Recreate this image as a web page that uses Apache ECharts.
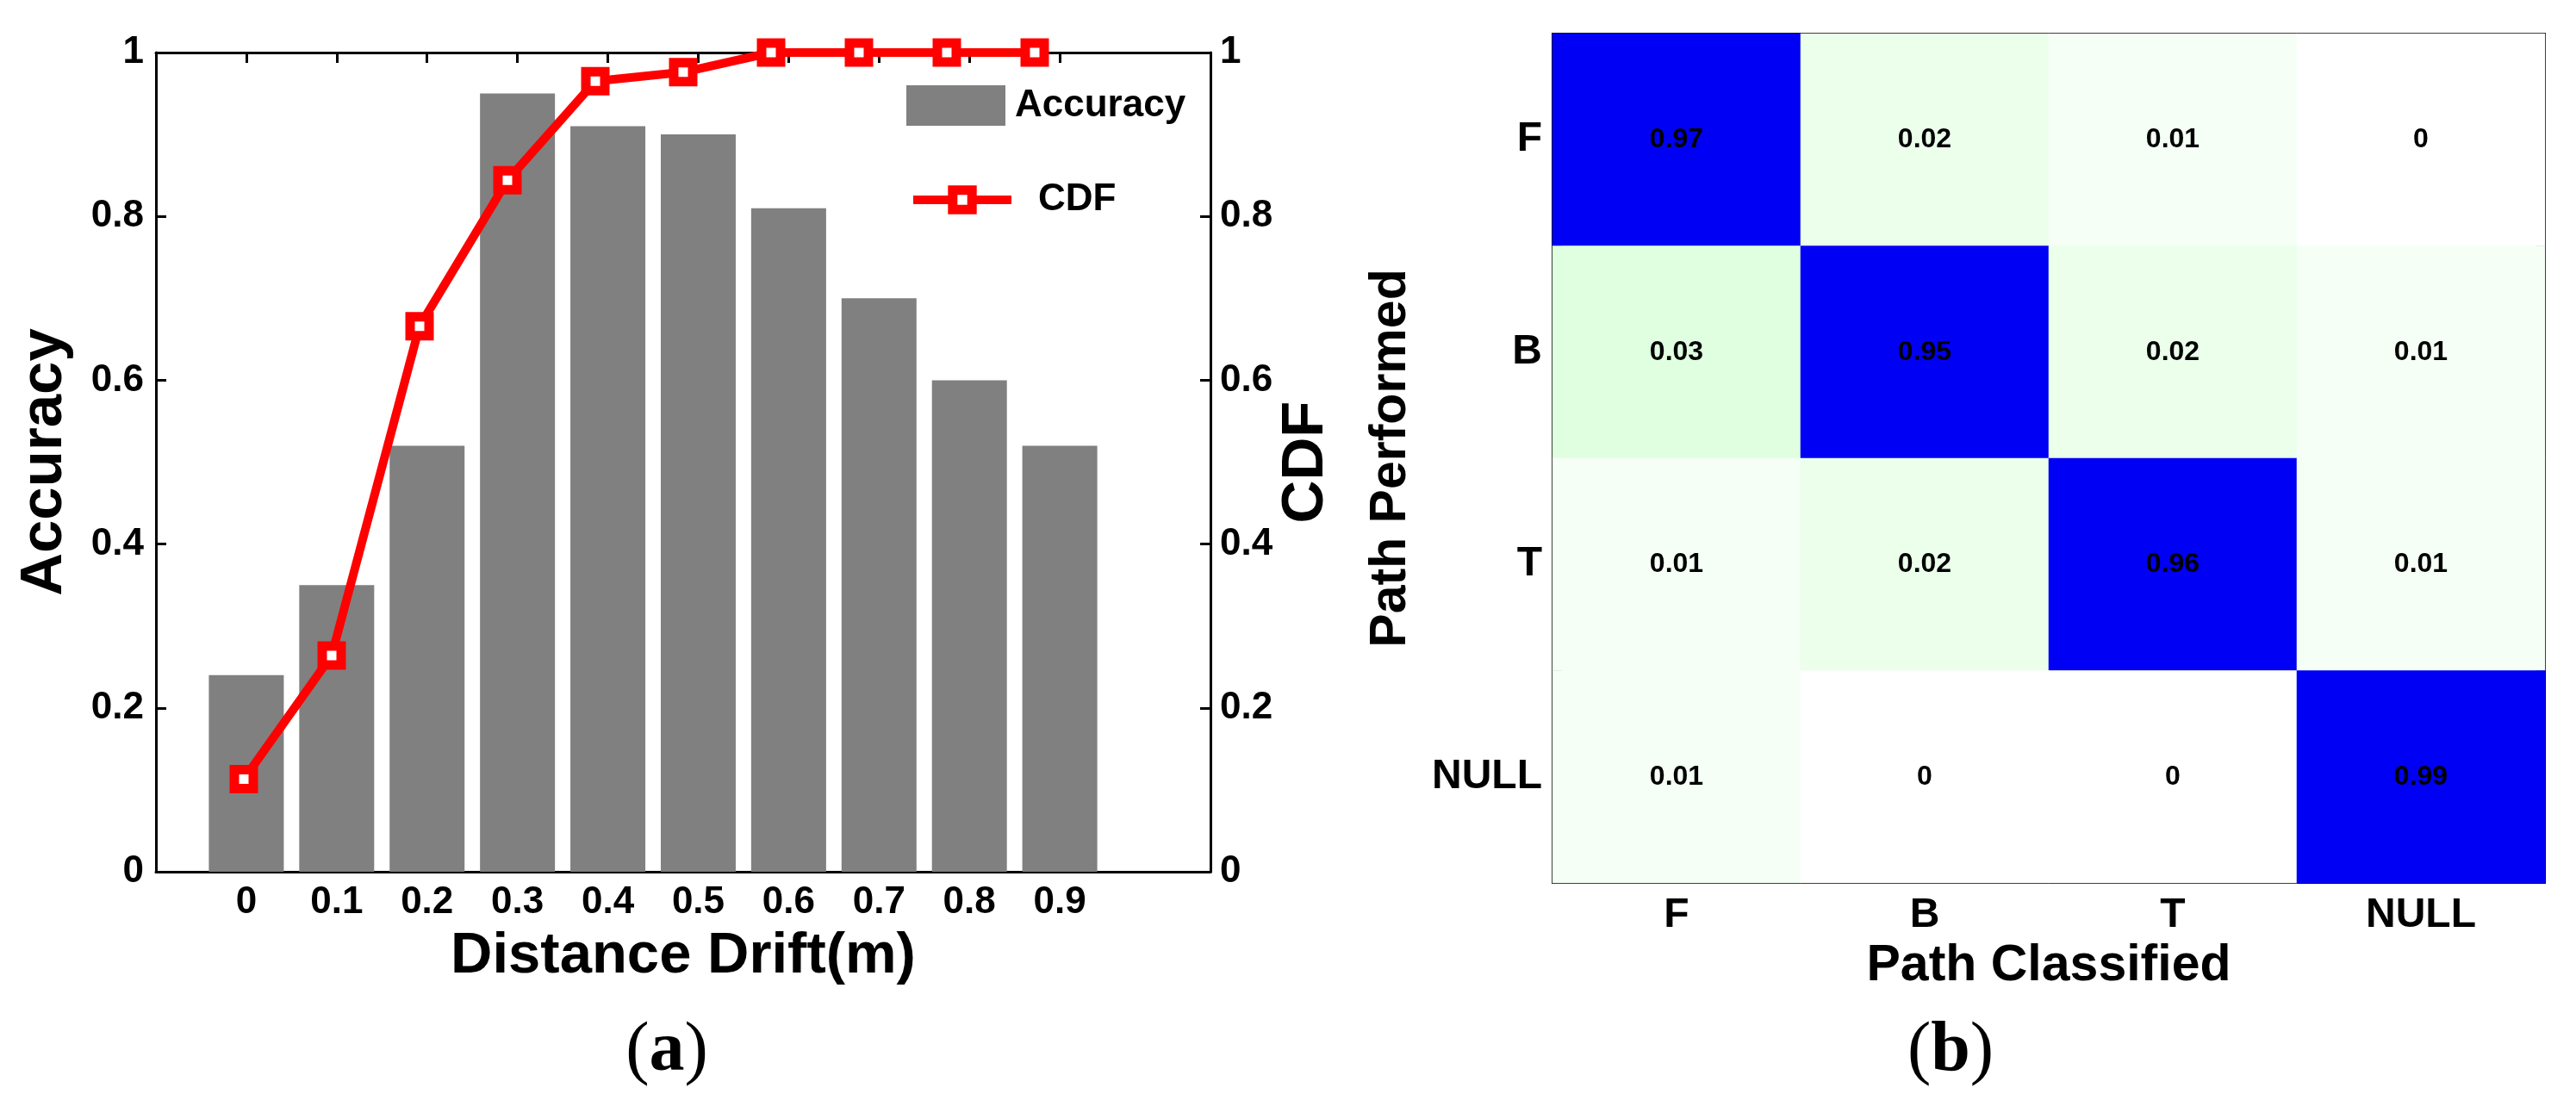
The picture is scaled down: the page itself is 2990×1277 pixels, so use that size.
<!DOCTYPE html>
<html><head><meta charset="utf-8">
<script src="https://cdn.jsdelivr.net/npm/echarts@6/dist/echarts.min.js"></script>
<style>html,body{margin:0;padding:0;background:#fff}#c{width:2990px;height:1277px}</style>
</head><body><div id="c"></div>
<script>
const drift = [0, 0.1, 0.2, 0.3, 0.4, 0.5, 0.6, 0.7, 0.8, 0.9];
const accuracy = [0.24, 0.35, 0.52, 0.95, 0.91, 0.90, 0.81, 0.70, 0.60, 0.52];
const cdf = [0.113, 0.264, 0.666, 0.844, 0.965, 0.976, 1, 1, 1, 1];
const pathLabels = ['F', 'B', 'T', 'NULL'];
const confF = [0.97, 0.02, 0.01, 0];
const confB = [0.03, 0.95, 0.02, 0.01];
const confT = [0.01, 0.02, 0.96, 0.01];
const confNULL = [0.01, 0, 0, 0.99];
const confusion = [confF, confB, confT, confNULL];

const FF = 'Liberation Sans, Arial, sans-serif';
const heatData = [];
confusion.forEach((row, r) => row.forEach((v, c) => heatData.push([c, r, v])));

const tickLabel = { fontSize: 44, fontWeight: 'bold', fontFamily: FF, color: '#000' };
const nameBig = { fontSize: 67, fontWeight: 'bold', fontFamily: FF, color: '#000' };
const nameMid = { fontSize: 59, fontWeight: 'bold', fontFamily: FF, color: '#000' };
const line3 = { show: true, onZero: false, lineStyle: { color: '#000', width: 3 } };
const line2 = { show: true, onZero: false, lineStyle: { color: '#000', width: 2 } };
const tickIn = (len, w) => ({ show: true, inside: true, length: len, lineStyle: { color: '#000', width: w } });

const catAxis = (pos, extra) => Object.assign({
  type: 'category', gridIndex: 1, position: pos, data: pathLabels,
  axisLine: { show: false, onZero: false }, axisLabel: { show: false },
  splitLine: { show: false }
}, extra);

const option = {
  animation: false,
  backgroundColor: '#fff',
  grid: [
    { left: 181, top: 61, width: 1224, height: 951 },
    { left: 1802, top: 39, width: 1152, height: 986 }
  ],
  legend: [
    {
      data: ['Accuracy'], left: 1047, top: 94, itemWidth: 115, itemHeight: 47,
      icon: 'rect', selectedMode: false,
      textStyle: Object.assign({}, tickLabel, { padding: [0, 0, 0, 6] })
    },
    {
      data: ['CDF'], left: 1050, top: 205, itemWidth: 114, itemHeight: 28,
      selectedMode: false,
      lineStyle: { width: 10, color: '#ff0000' },
      itemStyle: { borderWidth: 11, borderColor: '#ff0000', color: '#ffffff' },
      textStyle: Object.assign({}, tickLabel, { padding: [0, 0, 0, 26] })
    }
  ],
  xAxis: [
    {
      type: 'value', gridIndex: 0, position: 'bottom', min: -0.1, max: 1.0667,
      axisLine: line3, axisTick: { show: false }, splitLine: { show: false },
      axisLabel: Object.assign({ customValues: drift, margin: 14, formatter: v => String(v) }, tickLabel),
      name: 'Distance Drift(m)', nameLocation: 'middle', nameGap: 65, nameTextStyle: nameBig
    },
    {
      type: 'value', gridIndex: 0, position: 'top', min: -0.1, max: 1.0667,
      axisLine: line3, axisTick: Object.assign(tickIn(12, 3), { customValues: drift }),
      splitLine: { show: false }, axisLabel: { show: false }
    },
    {
      type: 'value', gridIndex: 0, position: 'bottom', min: -0.1, max: 1.1, show: false,
      axisLine: { onZero: false }, splitLine: { show: false }
    },
    catAxis('bottom', {
      axisLine: line2,
      axisTick: Object.assign(tickIn(11, 2), { alignWithLabel: true, interval: 0 }),
      axisLabel: Object.assign({ show: true, margin: 14, interval: 0 }, tickLabel, { fontSize: 48 }),
      name: 'Path Classified', nameLocation: 'middle', nameGap: 65, nameTextStyle: nameMid
    }),
    catAxis('bottom', { axisTick: Object.assign(tickIn(11, 2), { interval: 0 }) }),
    catAxis('top', { axisLine: line2, axisTick: Object.assign(tickIn(11, 2), { alignWithLabel: true, interval: 0 }) }),
    catAxis('top', { axisTick: Object.assign(tickIn(11, 2), { interval: 0 }) })
  ],
  yAxis: [
    {
      type: 'value', gridIndex: 0, position: 'left', min: 0, max: 1, interval: 0.2,
      axisLine: line3, axisTick: tickIn(12, 3), splitLine: { show: false },
      axisLabel: Object.assign({ margin: 14 }, tickLabel),
      name: 'Accuracy', nameLocation: 'middle', nameRotate: 90, nameGap: 95,
      nameTextStyle: Object.assign({}, nameBig, { fontSize: 69 })
    },
    {
      type: 'value', gridIndex: 0, position: 'right', min: 0, max: 1, interval: 0.2,
      axisLine: line3, axisTick: tickIn(12, 3), splitLine: { show: false },
      axisLabel: Object.assign({ margin: 11 }, tickLabel),
      name: 'CDF', nameLocation: 'middle', nameRotate: 90, nameGap: 74,
      nameTextStyle: Object.assign({}, nameBig, { fontSize: 69 })
    },
    catAxis('left', {
      inverse: true, axisLine: line2,
      axisTick: Object.assign(tickIn(11, 2), { alignWithLabel: true, interval: 0 }),
      axisLabel: Object.assign({ show: true, margin: 12, interval: 0 }, tickLabel, { fontSize: 48 }),
      name: 'Path Performed', nameLocation: 'middle', nameRotate: 90, nameGap: 158, nameTextStyle: nameMid
    }),
    catAxis('left', { inverse: true, axisTick: Object.assign(tickIn(11, 2), { interval: 0 }) }),
    catAxis('right', { inverse: true, axisLine: line2, axisTick: Object.assign(tickIn(11, 2), { alignWithLabel: true, interval: 0 }) }),
    catAxis('right', { inverse: true, axisTick: Object.assign(tickIn(11, 2), { interval: 0 }) })
  ],
  visualMap: {
    show: false, type: 'continuous', seriesIndex: 2, min: 0, max: 1,
    inRange: { color: ['#ffffff', '#00ff00', '#0080f8', '#0000f4', '#0000f4'] }
  },
  series: [
    {
      name: 'Accuracy', type: 'bar', xAxisIndex: 0, yAxisIndex: 0, barWidth: 87,
      itemStyle: { color: '#808080' },
      data: drift.map((x, i) => [x, accuracy[i]])
    },
    {
      name: 'CDF', type: 'line', xAxisIndex: 2, yAxisIndex: 1, clip: false,
      symbol: 'rect', symbolSize: 22,
      lineStyle: { color: '#ff0000', width: 10 },
      itemStyle: { color: '#ffffff', borderColor: '#ff0000', borderWidth: 11 },
      data: drift.map((x, i) => [x, cdf[i]])
    },
    {
      name: 'Confusion', type: 'heatmap', xAxisIndex: 3, yAxisIndex: 2,
      label: {
        show: true, fontSize: 32, fontWeight: 'bold', fontFamily: FF, color: '#000',
        formatter: p => String(p.value[2])
      },
      emphasis: { disabled: true },
      data: heatData
    }
  ],
  graphic: [
    {
      type: 'text', x: 774, y: 1221,
      style: {
        text: '{n|(}{b|a}{n|)}', textAlign: 'center', textVerticalAlign: 'middle',
        rich: {
          n: { fontSize: 82, fontFamily: 'Liberation Serif, serif', fill: '#000' },
          b: { fontSize: 82, fontWeight: 'bold', fontFamily: 'Liberation Serif, serif', fill: '#000' }
        }
      }
    },
    {
      type: 'text', x: 2264, y: 1221,
      style: {
        text: '{n|(}{b|b}{n|)}', textAlign: 'center', textVerticalAlign: 'middle',
        rich: {
          n: { fontSize: 82, fontFamily: 'Liberation Serif, serif', fill: '#000' },
          b: { fontSize: 82, fontWeight: 'bold', fontFamily: 'Liberation Serif, serif', fill: '#000' }
        }
      }
    }
  ]
};
const chart = echarts.init(document.getElementById('c'), null, { renderer: 'canvas' });
chart.setOption(option);
</script>
</body></html>
